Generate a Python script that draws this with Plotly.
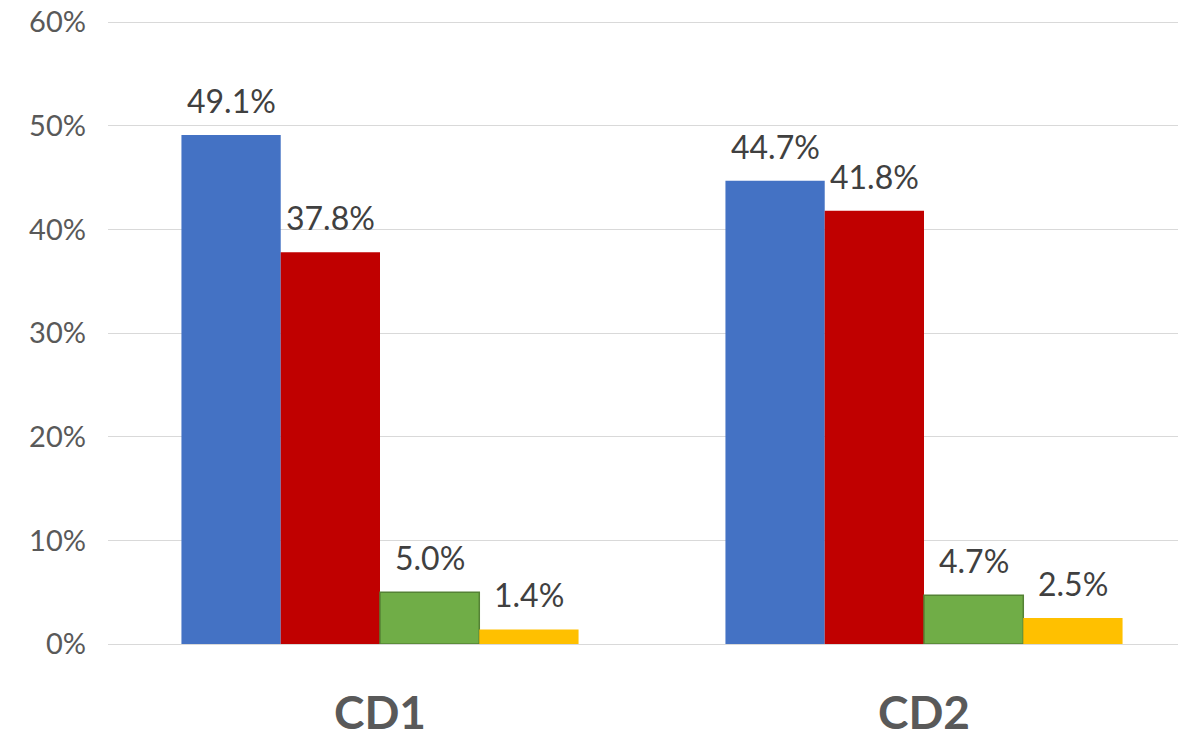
import plotly.graph_objects as go

categories = ["CD1", "CD2"]
series_names = ["S1", "S2", "S3", "S4"]
s1 = [0.491, 0.447]
s2 = [0.378, 0.418]
s3 = [0.050, 0.047]
s4 = [0.014, 0.025]
series_values = [s1, s2, s3, s4]
colors = ["#4472C4", "#C00000", "#70AD47", "#FFC000"]
outlines = ["#4472C4", "#C00000", "#548235", "#FFC000"]
y_ticks = [0, 0.1, 0.2, 0.3, 0.4, 0.5, 0.6]

# page body has an 8px default margin on every side
W, H = 1170, 740
ml, mr, mt, mb = 100, 0, 11, 104
bargap = 0.27
plot_w = W - ml - mr
xr = [-0.5, -0.5 + plot_w / 544.0]
px_per_unit = plot_w / (xr[1] - xr[0])
bar_w_px = (1 - bargap) / len(series_values) * px_per_unit

FONT = "Lato"
fig = go.Figure()
for i, (name, vals) in enumerate(zip(series_names, series_values)):
    fig.add_trace(go.Bar(
        x=categories, y=vals, name=name,
        marker=dict(color=colors[i], line=dict(color=outlines[i], width=1.5 if i == 2 else 0)),
        showlegend=False, hoverinfo="skip",
    ))
    for j, c in enumerate(categories):
        fig.add_annotation(
            x=c, y=vals[j], text=f"{vals[j]*100:.1f}%",
            xshift=(i - (len(series_values) - 1) / 2) * bar_w_px,
            yanchor="bottom", yshift=13, showarrow=False,
            font=dict(family=FONT, size=32, color="#404040"),
        )

fig.update_layout(
    width=W, height=H,
    margin=dict(l=ml, r=mr, t=mt, b=mb),
    barmode="group", bargap=bargap, bargroupgap=0,
    plot_bgcolor="white", paper_bgcolor="white",
    xaxis=dict(range=xr, showgrid=False, showline=False, ticks="", automargin=False,
               tickfont=dict(family=FONT, size=46, color="#595959", weight="bold"),
               ticklabelstandoff=38, ticklabeloverflow="allow"),
    yaxis=dict(range=[0, 0.603], tickvals=y_ticks, tickformat=".0%", automargin=False,
               showgrid=True, gridcolor="#D9D9D9", gridwidth=1.3,
               zeroline=True, zerolinecolor="#D9D9D9", zerolinewidth=1.3,
               showline=False, ticks="",
               tickfont=dict(family=FONT, size=29, color="#595959"),
               ticklabelstandoff=21, ticklabeloverflow="allow"),
)

fig.write_html("out.html")
